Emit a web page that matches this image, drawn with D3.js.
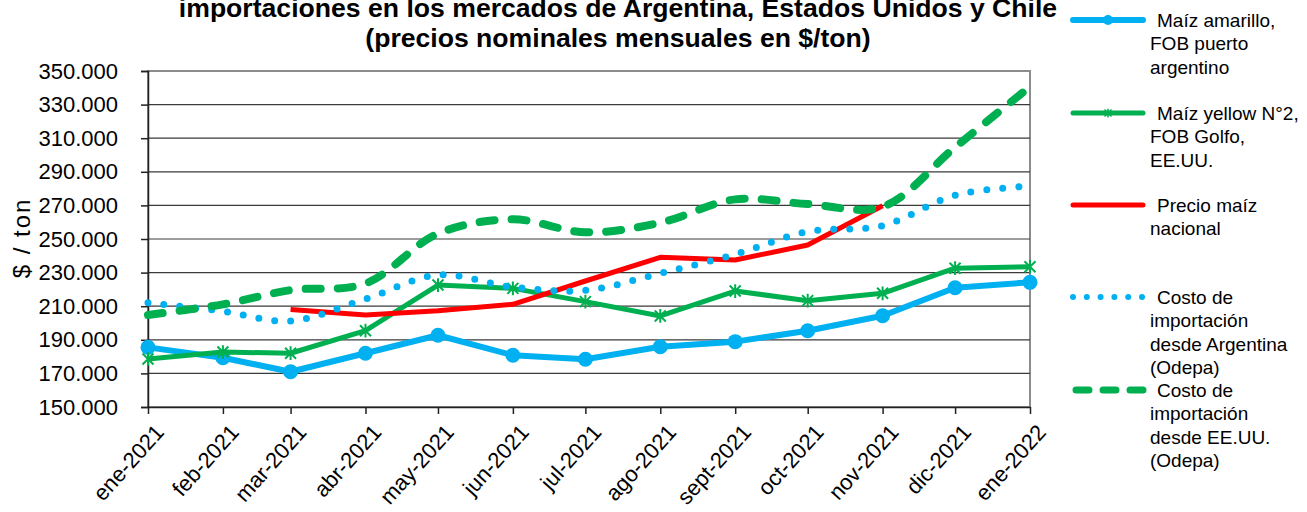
<!DOCTYPE html>
<html>
<head>
<meta charset="utf-8">
<script src="https://cdn.jsdelivr.net/npm/d3@7"></script>
<style>
  body { margin: 0; background: #fff; }
  svg { display: block; font-family: "Liberation Sans", Arial, sans-serif; }
</style>
</head>
<body>
<svg id="chart" width="1307" height="512"></svg>
<script>
// ---------- DATA ----------
const monthLabels = ["ene-2021","feb-2021","mar-2021","abr-2021","may-2021","jun-2021","jul-2021",
                     "ago-2021","sept-2021","oct-2021","nov-2021","dic-2021","ene-2022"];
const monthIndex = [0,1,2,3,4,5,6,7,8,9,10,11,12]; // months since ene-2021
const maizArgentina = [185500,179300,171000,182000,192700,180800,178400,185900,188900,195400,204300,221000,224200];
const maizEEUU      = [178600,182700,182000,195400,222600,220600,212700,204200,219000,213300,217700,232600,233500];
const precioNacional= [null,null,208100,204800,207300,211100,225000,239100,237500,246400,269800,null,null];
const costoArg      = [212000,207000,201200,214300,228600,221400,219400,229600,240900,254400,257900,276000,281500];
const costoEEUU     = [204800,211100,219600,223500,253200,261700,254000,259700,273600,270800,269200,304600,340700];
const yTicks = [150000,170000,190000,210000,230000,250000,270000,290000,310000,330000,350000];
const titleLines = ["importaciones en los mercados de Argentina, Estados Unidos y Chile",
                    "(precios nominales mensuales en $/ton)"];
const yTitle = "$ / ton";
const legendNames = [
  ["Maíz amarillo,", "FOB puerto", "argentino"],
  ["Maíz yellow N°2,", "FOB Golfo,", "EE.UU."],
  ["Precio maíz", "nacional"],
  ["Costo de", "importación", "desde Argentina", "(Odepa)"],
  ["Costo de", "importación", "desde EE.UU.", "(Odepa)"]
];

// ---------- SETUP ----------
const svg = d3.select("#chart");
const L = 148, R = 1030, T = 71, B = 407;
const dates = monthIndex.map(i => new Date(2021, i, 1));
const x = d3.scaleTime().domain([dates[0], dates[dates.length-1]]).range([L, R]);
const y = d3.scaleLinear().domain([150000, 350000]).range([B, T]);
const esLocale = d3.formatLocale({decimal: ",", thousands: ".", grouping: [3], currency: ["$", ""]});
const fmt = esLocale.format(",.0f");

const BLUE = "#00B0F0", GREEN = "#00B050", RED = "#FF0000";

// plot border
svg.append("rect").attr("x", L).attr("y", T).attr("width", R - L).attr("height", B - T)
  .attr("fill", "none").attr("stroke", "#8c8c8c").attr("stroke-width", 2);

// gridlines
svg.append("g").selectAll("line").data(yTicks.slice(1, -1)).join("line")
  .attr("x1", L).attr("x2", R).attr("y1", d => y(d)).attr("y2", d => y(d))
  .attr("stroke", "#3a3a3a").attr("stroke-width", 1.2);

// axes
const yAxis = svg.append("g").attr("transform", `translate(${L},0)`)
  .call(d3.axisLeft(y).tickValues(yTicks).tickFormat(fmt).tickSize(7).tickPadding(23));
yAxis.selectAll("text").attr("font-size", 22).attr("fill", "#000")
  .attr("font-family", "Liberation Sans, Arial, sans-serif");
yAxis.selectAll("line, path").attr("stroke", "#222").attr("stroke-width", 1.5);

const xAxis = svg.append("g").attr("transform", `translate(0,${B})`)
  .call(d3.axisBottom(x).tickValues(dates).tickFormat((d, i) => monthLabels[i]).tickSize(7).tickSizeOuter(0));
xAxis.selectAll("line, path").attr("stroke", "#222").attr("stroke-width", 1.5);
xAxis.selectAll("text")
  .attr("font-size", 22).attr("fill", "#000")
  .attr("font-family", "Liberation Sans, Arial, sans-serif")
  .attr("text-anchor", "end")
  .attr("dy", "0.35em").attr("y", 0)
  .attr("transform", "translate(11,21) rotate(-48)");

// y title
svg.append("text").attr("transform", "translate(30,238) rotate(-90)")
  .attr("text-anchor", "middle").attr("font-size", 24).attr("letter-spacing", 2).text(yTitle);

// title
svg.append("text").attr("x", 618).attr("y", 17).attr("text-anchor", "middle")
  .attr("font-size", 26.6).attr("font-weight", "bold").text(titleLines[0]);
svg.append("text").attr("x", 618).attr("y", 47).attr("text-anchor", "middle")
  .attr("font-size", 26.6).attr("font-weight", "bold").text(titleLines[1]);

// ---------- SERIES ----------
function pts(arr) { return arr.map((v, i) => ({d: dates[i], v})).filter(p => p.v != null); }
const lineStraight = d3.line().x(p => x(p.d)).y(p => y(p.v));
const lineSmooth = d3.line().x(p => x(p.d)).y(p => y(p.v)).curve(d3.curveCatmullRom.alpha(0.5));

const starPath = s => `M${-s},${-s}L${s},${s}M${-s},${s}L${s},${-s}M0,${-s*1.25}L0,${s*1.25}`;

// 1. Maíz amarillo FOB Argentina
svg.append("path").datum(pts(maizArgentina)).attr("d", lineStraight)
  .attr("fill", "none").attr("stroke", BLUE).attr("stroke-width", 6).attr("stroke-linejoin", "round");
svg.append("g").selectAll("circle").data(pts(maizArgentina)).join("circle")
  .attr("cx", p => x(p.d)).attr("cy", p => y(p.v)).attr("r", 7.5).attr("fill", BLUE);

// 2. Maíz yellow N°2 FOB Golfo
svg.append("path").datum(pts(maizEEUU)).attr("d", lineStraight)
  .attr("fill", "none").attr("stroke", GREEN).attr("stroke-width", 5).attr("stroke-linejoin", "round");
svg.append("g").selectAll("path").data(pts(maizEEUU)).join("path")
  .attr("transform", p => `translate(${x(p.d)},${y(p.v)})`).attr("d", starPath(5.5))
  .attr("fill", "none").attr("stroke", GREEN).attr("stroke-width", 2);

// 3. Precio maíz nacional
svg.append("path").datum(pts(precioNacional)).attr("d", lineStraight)
  .attr("fill", "none").attr("stroke", RED).attr("stroke-width", 5).attr("stroke-linejoin", "round");

// 4. Costo importación Argentina (dotted)
svg.append("path").datum(pts(costoArg)).attr("d", lineSmooth)
  .attr("fill", "none").attr("stroke", BLUE).attr("stroke-width", 7)
  .attr("stroke-linecap", "round").attr("stroke-dasharray", "0 16");

// 5. Costo importación EE.UU. (dashed)
svg.append("path").datum(pts(costoEEUU)).attr("d", lineSmooth)
  .attr("fill", "none").attr("stroke", GREEN).attr("stroke-width", 8)
  .attr("stroke-linecap", "round").attr("stroke-dasharray", "15 17");

// ---------- LEGEND ----------
const lg = svg.append("g");
const legY = [20, 113, 205, 297, 390];
const lineH = 23.3;
legendNames.forEach((lines, k) => {
  const cy = legY[k];
  const g = lg.append("g");
  if (k === 0) {
    g.append("line").attr("x1", 1073).attr("x2", 1143).attr("y1", cy).attr("y2", cy)
      .attr("stroke", BLUE).attr("stroke-width", 6).attr("stroke-linecap", "round");
    g.append("circle").attr("cx", 1108).attr("cy", cy).attr("r", 5).attr("fill", BLUE);
  } else if (k === 1) {
    g.append("line").attr("x1", 1073).attr("x2", 1143).attr("y1", cy).attr("y2", cy)
      .attr("stroke", GREEN).attr("stroke-width", 5).attr("stroke-linecap", "round");
    g.append("path").attr("transform", `translate(1108,${cy})`).attr("d", starPath(3.5))
      .attr("fill", "none").attr("stroke", GREEN).attr("stroke-width", 1.5);
  } else if (k === 2) {
    g.append("line").attr("x1", 1073).attr("x2", 1143).attr("y1", cy).attr("y2", cy)
      .attr("stroke", RED).attr("stroke-width", 5).attr("stroke-linecap", "round");
  } else if (k === 3) {
    g.append("line").attr("x1", 1073).attr("x2", 1143).attr("y1", cy).attr("y2", cy)
      .attr("stroke", BLUE).attr("stroke-width", 6).attr("stroke-linecap", "round")
      .attr("stroke-dasharray", "0 13.8");
  } else {
    g.append("line").attr("x1", 1076).attr("x2", 1143).attr("y1", cy).attr("y2", cy)
      .attr("stroke", GREEN).attr("stroke-width", 7).attr("stroke-linecap", "round")
      .attr("stroke-dasharray", "13 14");
  }
  lines.forEach((t, j) => {
    g.append("text").attr("x", j === 0 ? 1157 : 1150).attr("y", cy + 7 + j * lineH)
      .attr("font-size", 19).attr("fill", "#000").text(t);
  });
});
</script>
</body>
</html>
